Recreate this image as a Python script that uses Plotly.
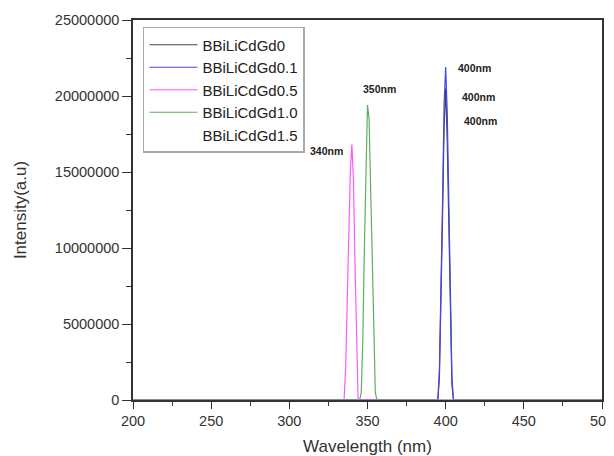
import plotly.graph_objects as go

# Series data (wavelength nm, intensity a.u.)
names = ["BBiLiCdGd0", "BBiLiCdGd0.1", "BBiLiCdGd0.5", "BBiLiCdGd1.0", "BBiLiCdGd1.5"]
colors = ["#444444", "#4646e6", "#ff55ff", "#5fae5f", "#ffffff"]

x_gd0 = [200, 394, 395, 396, 397, 398, 399, 400, 401, 402, 403, 404, 405, 500]
y_gd0 = [0, 0, 0, 1.5e6, 6e6, 12e6, 18e6, 20.5e6, 17e6, 11e6, 5e6, 1e6, 0, 0]

x_gd01 = [200, 394, 395, 396, 397, 398, 399, 400, 401, 402, 403, 404, 405, 500]
y_gd01 = [0, 0, 0, 2e6, 7e6, 13e6, 19.5e6, 21.9e6, 19e6, 13e6, 6e6, 1.5e6, 0, 0]

x_gd05 = [200, 335, 336, 337, 338, 339, 340, 341, 342, 343, 344, 500]
y_gd05 = [0, 0, 2e6, 6e6, 11e6, 15e6, 16.8e6, 14.5e6, 9e6, 3.5e6, 0, 0]

x_gd10 = [200, 345, 346, 347, 348, 349, 350, 351, 352, 353, 354, 355, 356, 500]
y_gd10 = [0, 0, 0.5e6, 4e6, 10e6, 16e6, 19.4e6, 18.5e6, 14e6, 8e6, 3e6, 0.5e6, 0, 0]

x_gd15 = [394, 395, 396, 397, 398, 399, 400, 401, 402, 403, 404, 405]
y_gd15 = [0, 0.5e6, 4e6, 10e6, 15e6, 18.5e6, 19.5e6, 16e6, 10e6, 4e6, 0.5e6, 0]

xs = [x_gd0, x_gd01, x_gd05, x_gd10, x_gd15]
ys = [y_gd0, y_gd01, y_gd05, y_gd10, y_gd15]

# Peak labels
label_text = ["400nm", "400nm", "400nm", "350nm", "340nm"]
label_x = [418.4, 420.7, 422.0, 357.4, 323.5]
label_y = [21.84e6, 19.93e6, 18.36e6, 20.46e6, 16.38e6]

FONT = "Liberation Sans, Arial, sans-serif"

fig = go.Figure()
# draw the (white) Gd1.5 trace first so the others sit on top
order = [4, 0, 1, 2, 3]
for i in order:
    fig.add_trace(go.Scatter(
        x=xs[i], y=ys[i], mode="lines", name=names[i],
        line=dict(color=colors[i], width=1.2),
        legendrank=i + 1,
    ))

for t, x, y in zip(label_text, label_x, label_y):
    fig.add_annotation(x=x, y=y, text="<b>" + t + "</b>", showarrow=False,
                       font=dict(family=FONT, size=10.5, color="#222222"))

axis_common = dict(
    showline=True, linecolor="#333333", linewidth=1.5, mirror=True,
    ticks="outside", tickcolor="#333333", tickwidth=1.2,
    showgrid=False, zeroline=False, automargin=False,
    ticklabeloverflow="allow",
    tickfont=dict(family=FONT, size=14.5, color="#333333"),
)

# page body has an 8px default margin, so the figure is sized to fit the window
fig.update_layout(
    width=606, height=448,
    margin=dict(l=125, r=12, t=12, b=56),
    paper_bgcolor="white", plot_bgcolor="white",
    font=dict(family=FONT, color="#333333"),
    xaxis=dict(range=[200, 500], dtick=50, tick0=200, ticklen=7,
               title=dict(text="Wavelength (nm)", font=dict(size=17), standoff=15),
               minor=dict(dtick=25, ticks="outside", ticklen=4, tickcolor="#333333"),
               **axis_common),
    yaxis=dict(range=[0, 25e6], dtick=5e6, tickformat="d", ticklen=9,
               title=dict(text="Intensity(a.u)", font=dict(size=17), standoff=24),
               minor=dict(dtick=2.5e6, ticks="outside", ticklen=5, tickcolor="#333333"),
               **axis_common),
    legend=dict(x=0.0213, y=0.9816, xanchor="left", yanchor="top",
                bgcolor="white", bordercolor="#aaaaaa", borderwidth=1.5,
                font=dict(family=FONT, size=15, color="#222222"),
                tracegroupgap=0, itemwidth=48),
    showlegend=True,
)

fig.write_html("out.html")
